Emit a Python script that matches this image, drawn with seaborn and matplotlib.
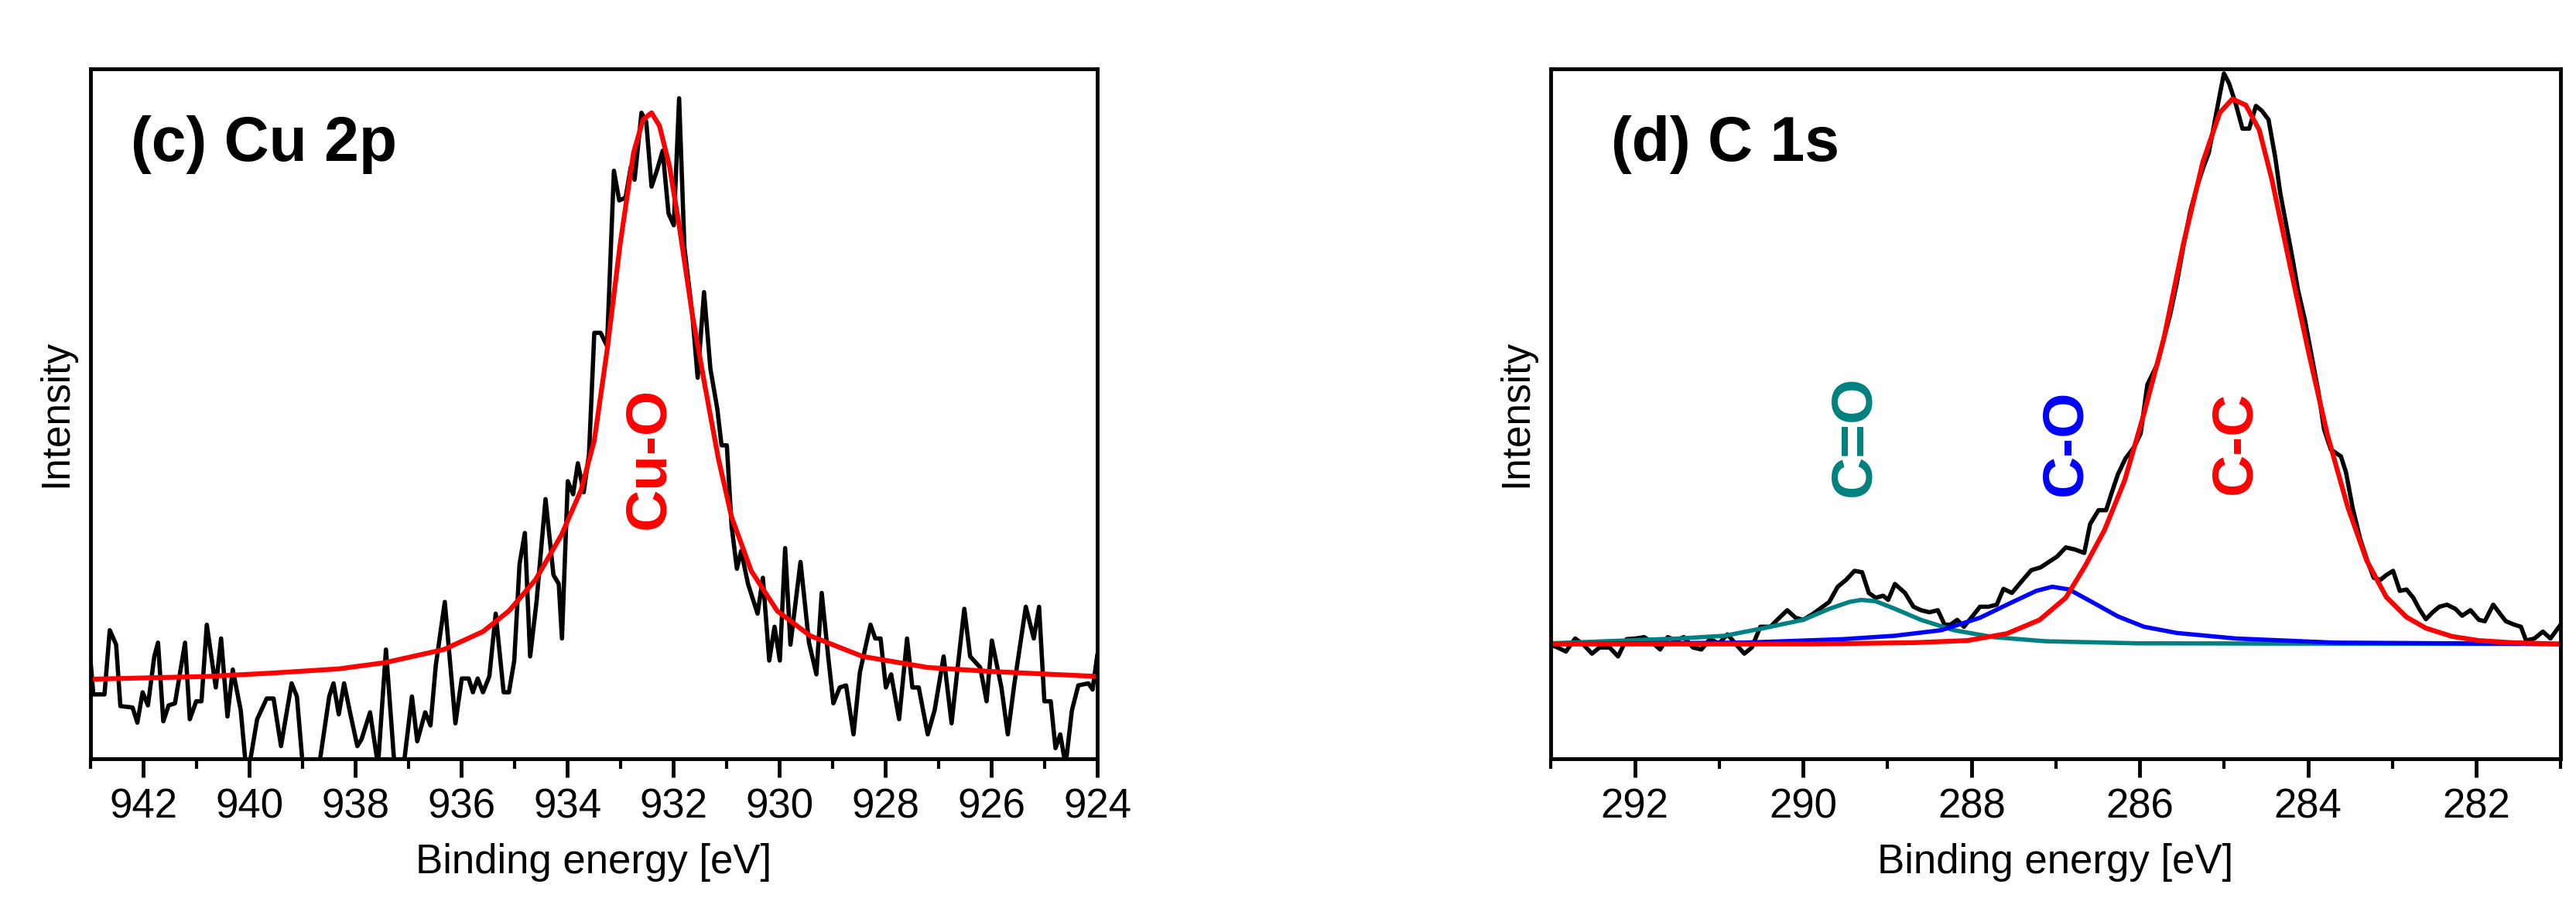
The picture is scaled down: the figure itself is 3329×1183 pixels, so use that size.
import matplotlib
matplotlib.use("Agg")
import matplotlib.pyplot as plt
import pandas as pd
import seaborn as sns

# ---- panel (c) Cu 2p : measured spectrum (relative intensity, 0-100 = axis frame)
cu_energy = [943.00, 942.94, 942.73, 942.63, 942.51, 942.43, 942.20, 942.11, 942.01, 941.91,
             941.79, 941.72, 941.62, 941.52, 941.40, 941.21, 941.12, 941.00, 940.90, 940.80,
             940.63, 940.53, 940.41, 940.31, 940.16, 940.04, 939.85, 939.67, 939.54, 939.40,
             939.20, 939.10, 938.99, 938.68, 938.49, 938.41, 938.31, 938.21, 938.09, 937.96,
             937.88, 937.72, 937.57, 937.42, 937.26, 937.07, 936.93, 936.83, 936.68, 936.58,
             936.48, 936.31, 936.11, 935.99, 935.86, 935.78, 935.69, 935.59, 935.47, 935.35,
             935.20, 935.10, 935.00, 934.90, 934.80, 934.70, 934.58, 934.41, 934.26, 934.16,
             934.10, 933.99, 933.89, 933.80, 933.69, 933.59, 933.49, 933.37, 933.25, 933.12,
             933.02, 932.90, 932.80, 932.73, 932.60, 932.51, 932.41, 932.31, 932.20, 932.09,
             931.99, 931.89, 931.79, 931.64, 931.54, 931.42, 931.30, 931.17, 931.09, 930.99,
             930.90, 930.80, 930.72, 930.59, 930.41, 930.31, 930.19, 930.09, 929.99, 929.89,
             929.79, 929.60, 929.44, 929.30, 929.20, 929.07, 928.98, 928.86, 928.74, 928.60,
             928.48, 928.28, 928.19, 928.09, 927.99, 927.89, 927.74, 927.59, 927.49, 927.37,
             927.20, 927.07, 926.90, 926.75, 926.64, 926.51, 926.40, 926.21, 926.09, 925.99,
             925.81, 925.69, 925.57, 925.35, 925.20, 925.10, 925.00, 924.88, 924.79, 924.70,
             924.60, 924.48, 924.36, 924.17, 924.09, 924.00]
cu_counts = [14.8, 9.3, 9.3, 18.6, 16.5, 7.6, 7.4, 5.2, 9.6, 7.7,
             14.8, 16.8, 5.4, 7.7, 8.0, 16.8, 5.7, 8.3, 8.3, 19.4,
             10.3, 17.4, 6.1, 12.9, 7.0, -3.0, 5.7, 8.7, 8.7, 1.8,
             10.9, 9.0, -1.0, -1.0, 9.0, 10.9, 6.4, 10.9, 6.4, 1.8,
             2.8, 6.7, -1.0, 15.8, -1.0, 0.0, 9.0, 2.5, 6.7, 4.8,
             13.5, 22.7, 5.1, 11.6, 11.6, 9.6, 11.6, 9.6, 11.9, 21.0,
             9.6, 9.6, 14.2, 28.2, 32.7, 14.8, 22.7, 37.6, 26.6, 25.3,
             17.4, 40.2, 38.3, 42.8, 38.6, 44.1, 61.7, 61.7, 59.8, 85.2,
             80.9, 81.3, 85.8, 83.9, 93.6, 92.3, 82.9, 85.2, 88.1, 79.0,
             77.3, 95.7, 74.1, 64.3, 55.2, 67.6, 56.5, 50.7, 45.4, 45.4,
             33.7, 27.5, 30.1, 25.3, 21.0, 26.2, 14.2, 19.1, 14.2, 30.5,
             16.5, 28.5, 16.8, 12.2, 24.0, 14.2, 8.0, 10.3, 10.6, 3.5,
             12.5, 19.4, 17.4, 17.4, 10.3, 12.2, 5.7, 17.4, 10.3, 10.3,
             3.5, 7.0, 14.8, 5.1, 12.9, 21.7, 14.8, 13.2, 8.3, 17.1,
             10.3, 3.5, 10.6, 22.0, 17.4, 22.0, 8.3, 8.3, 1.5, 3.5,
             -1.0, 7.0, 10.6, 10.9, 10.0, 15.1]

cuo_energy = [943.00, 940.78, 939.54, 938.31, 937.44, 936.33, 935.59, 935.10, 934.60, 934.11,
              933.74, 933.49, 933.25, 933.00, 932.75, 932.57, 932.41, 932.26, 932.07, 931.89,
              931.64, 931.40, 931.15, 930.90, 930.53, 930.04, 929.42, 928.43, 927.20, 925.96, 924.00]
cuo_fit = [11.5, 11.9, 12.4, 13.0, 13.9, 15.8, 18.4, 21.4, 25.9, 32.4,
           38.9, 46.1, 59.1, 74.7, 87.8, 92.6, 93.6, 91.7, 85.8, 77.3,
           64.3, 53.9, 43.5, 35.0, 27.2, 21.4, 17.8, 14.8, 13.2, 12.6, 11.9]

# ---- panel (d) C 1s : measured spectrum
c_energy = [293.00, 292.92, 292.82, 292.71, 292.61, 292.51, 292.42, 292.30, 292.20, 292.10,
            291.99, 291.89, 291.79, 291.70, 291.61, 291.51, 291.42, 291.31, 291.21, 291.11,
            291.00, 290.90, 290.78, 290.70, 290.61, 290.51, 290.39, 290.30, 290.19, 290.09,
            290.00, 289.88, 289.78, 289.69, 289.59, 289.49, 289.39, 289.30, 289.22, 289.14,
            289.05, 288.99, 288.91, 288.79, 288.69, 288.60, 288.50, 288.40, 288.32, 288.25,
            288.17, 288.09, 287.99, 287.90, 287.80, 287.70, 287.62, 287.52, 287.41, 287.29,
            287.18, 287.08, 286.98, 286.88, 286.77, 286.66, 286.59, 286.49, 286.40, 286.34,
            286.26, 286.17, 286.07, 285.99, 285.91, 285.79, 285.71, 285.64, 285.56, 285.48,
            285.40, 285.32, 285.25, 285.18, 285.11, 285.05, 285.00, 284.94, 284.86, 284.78,
            284.70, 284.62, 284.55, 284.47, 284.39, 284.33, 284.27, 284.19, 284.12, 284.04,
            283.96, 283.88, 283.81, 283.73, 283.61, 283.55, 283.47, 283.38, 283.30, 283.22,
            283.14, 283.07, 282.99, 282.91, 282.83, 282.75, 282.68, 282.60, 282.52, 282.44,
            282.35, 282.25, 282.17, 282.07, 281.97, 281.90, 281.80, 281.72, 281.65, 281.55,
            281.47, 281.41, 281.31, 281.21, 281.12, 281.00]
c_counts = [16.5, 16.1, 15.5, 17.4, 16.5, 15.2, 16.1, 16.1, 14.8, 17.3,
            17.4, 17.6, 16.8, 15.8, 17.6, 17.1, 17.6, 16.1, 15.8, 17.3,
            16.7, 18.0, 16.3, 15.2, 16.1, 19.1, 19.1, 20.2, 21.5, 20.4,
            20.1, 21.0, 21.9, 22.7, 24.9, 25.9, 27.2, 27.0, 24.0, 23.3,
            23.6, 23.0, 25.3, 24.0, 22.0, 21.5, 21.2, 21.5, 19.4, 19.4,
            20.1, 19.1, 20.6, 22.0, 22.0, 22.3, 24.6, 24.0, 25.6, 27.3,
            27.7, 28.5, 29.3, 30.6, 30.3, 29.8, 34.0, 36.0, 36.0, 38.3,
            41.2, 43.5, 45.1, 47.1, 54.2, 57.2, 61.1, 64.3, 68.9, 74.4,
            79.3, 82.9, 85.5, 87.8, 92.3, 96.2, 99.3, 97.9, 94.9, 91.3,
            91.3, 94.6, 93.9, 92.6, 87.1, 81.9, 78.0, 72.8, 67.9, 63.7,
            58.5, 53.3, 47.7, 44.8, 43.8, 41.5, 36.3, 31.8, 28.8, 26.2,
            25.9, 26.6, 27.2, 24.3, 24.5, 23.3, 21.7, 20.2, 21.2, 22.0,
            22.3, 21.7, 20.7, 21.5, 20.1, 19.9, 22.3, 21.0, 19.9, 19.4,
            19.1, 17.1, 17.4, 18.4, 17.4, 19.4]

cc_energy = [293.00, 289.92, 288.68, 288.05, 287.58, 287.19, 286.88, 286.65, 286.42, 286.18,
             285.95, 285.71, 285.48, 285.25, 285.05, 284.90, 284.74, 284.58, 284.43, 284.23,
             284.00, 283.77, 283.53, 283.30, 283.07, 282.83, 282.60, 282.29, 281.97, 281.58, 281.00]
cc_fit = [16.6, 16.6, 16.8, 17.1, 18.1, 20.1, 23.3, 27.9, 33.1, 40.3,
          50.0, 61.1, 74.7, 86.5, 93.6, 95.6, 94.7, 91.1, 83.9, 72.3,
          59.2, 46.9, 36.5, 28.6, 23.4, 20.5, 18.9, 17.7, 17.1, 16.8, 16.6]

co_energy = [293.00, 290.70, 289.53, 288.91, 288.36, 287.90, 287.51, 287.23, 287.04, 286.84,
             286.57, 286.26, 285.95, 285.56, 284.86, 283.69, 281.00]
co_fit = [16.6, 16.8, 17.3, 17.8, 18.6, 20.4, 22.7, 24.3, 24.9, 24.5,
          22.7, 20.6, 19.1, 18.2, 17.4, 16.8, 16.6]

c2o_energy = [293.00, 291.48, 290.93, 290.47, 290.00, 289.69, 289.45, 289.31, 289.14, 288.91,
              288.60, 288.21, 287.74, 287.12, 286.03, 281.00]
c2o_fit = [16.7, 17.4, 17.8, 18.9, 20.1, 21.7, 22.7, 23.0, 22.8, 21.7,
           20.1, 18.6, 17.6, 17.0, 16.7, 16.6]

TEAL = "#008080"

sns.set_theme(style="ticks")
plt.rcParams["font.family"] = ["Liberation Sans", "DejaVu Sans"]
plt.rcParams["text.color"] = "black"
plt.rcParams["axes.labelcolor"] = "black"
plt.rcParams["xtick.color"] = "black"

fig = plt.figure(figsize=(33.29, 11.83), dpi=100)
ax_c = fig.add_axes([0.035, 0.171, 0.391, 0.754])
ax_d = fig.add_axes([0.602, 0.171, 0.392, 0.754])


def style_axis(ax, xmax, xmin):
    ax.set_xlim(xmax, xmin)
    ax.set_ylim(0, 100)
    ax.set_yticks([])
    ax.set_xticks(range(int(xmin), int(xmax) + 1), minor=True)
    ax.tick_params(axis="x", which="major", direction="out", length=17, width=3.5,
                   labelsize=38, pad=10, top=False, colors="black")
    ax.tick_params(axis="x", which="minor", direction="out", length=9, width=3, top=False)
    for sp in ax.spines.values():
        sp.set_linewidth(3.5)
        sp.set_color("black")
    ax.set_xlabel("Binding energy [eV]", fontsize=38, labelpad=16)
    ax.set_ylabel("Intensity", fontsize=37, labelpad=14)


# panel (c)
sns.lineplot(x=cu_energy, y=cu_counts, ax=ax_c, color="black", lw=4, sort=False)
sns.lineplot(x=cuo_energy, y=cuo_fit, ax=ax_c, color="red", lw=4.5, sort=False)
style_axis(ax_c, 943, 924)
ax_c.set_xticks(range(924, 943, 2))
ax_c.text(0.04, 0.89, "(c) Cu 2p", transform=ax_c.transAxes, fontsize=58,
          fontweight="bold", va="center", ha="left")
ax_c.text(932.45, 43.5, "Cu-O", color="red", rotation=90, fontsize=54,
          fontweight="bold", ha="center", va="center")

# panel (d)
sns.lineplot(x=c_energy, y=c_counts, ax=ax_d, color="black", lw=4, sort=False)
sns.lineplot(x=c2o_energy, y=c2o_fit, ax=ax_d, color=TEAL, lw=4, sort=False)
sns.lineplot(x=co_energy, y=co_fit, ax=ax_d, color="blue", lw=4, sort=False)
sns.lineplot(x=cc_energy, y=cc_fit, ax=ax_d, color="red", lw=4.5, sort=False)
style_axis(ax_d, 293, 281)
ax_d.set_xticks(range(282, 293, 2))
ax_d.text(0.06, 0.89, "(d) C 1s", transform=ax_d.transAxes, fontsize=58,
          fontweight="bold", va="center", ha="left")
ax_d.text(289.39, 46.7, "C=O", color=TEAL, rotation=90, fontsize=54, fontweight="bold",
          ha="center", va="center")
ax_d.text(286.88, 45.8, "C-O", color="blue", rotation=90, fontsize=54, fontweight="bold",
          ha="center", va="center")
ax_d.text(284.86, 45.8, "C-C", color="red", rotation=90, fontsize=54, fontweight="bold",
          ha="center", va="center")

fig.savefig("out.png", dpi=100)
